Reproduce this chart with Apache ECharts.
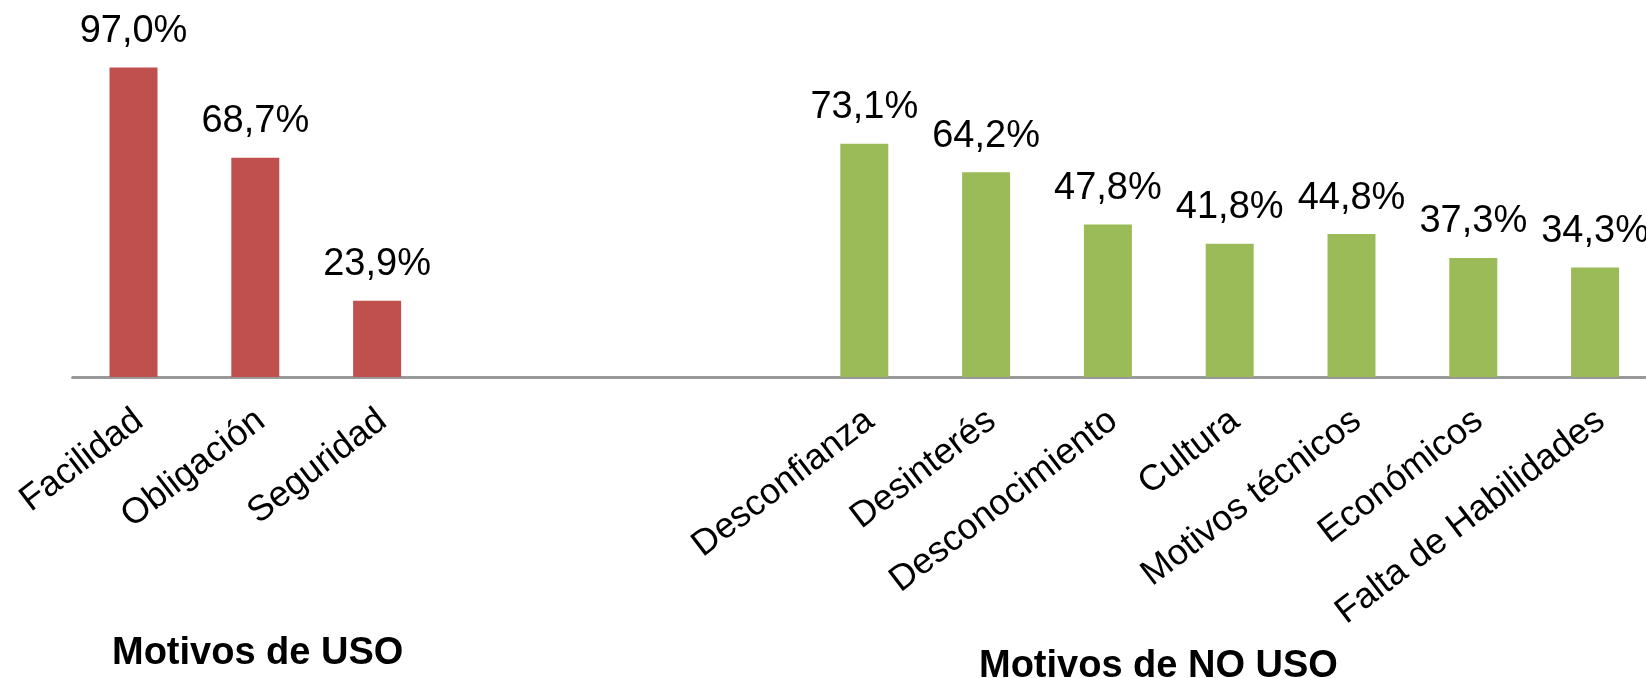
<!DOCTYPE html>
<html>
<head>
<meta charset="utf-8">
<script src="https://cdn.jsdelivr.net/npm/echarts@6/dist/echarts.min.js"></script>
<style>
html,body{margin:0;padding:0;background:#fff;overflow:hidden;width:1646px;height:678px;}
#chart{width:1662px;height:678px;}
</style>
</head>
<body>
<div id="chart"></div>
<script>
// Data
var usoCategories = ['Facilidad', 'Obligación', 'Seguridad'];
var usoValues = [97.0, 68.7, 23.9];
var noUsoCategories = ['Desconfianza', 'Desinterés', 'Desconocimiento', 'Cultura', 'Motivos técnicos', 'Económicos', 'Falta de Habilidades'];
var noUsoValues = [73.1, 64.2, 47.8, 41.8, 44.8, 37.3, 34.3];
var groupTitles = ['Motivos de USO', 'Motivos de NO USO'];
var gapCount = 3;

// Build combined category axis with blank gap slots
var categories = [], usoSeries = [], noUsoSeries = [];
usoCategories.forEach(function (c, i) { categories.push(c); usoSeries.push(usoValues[i]); noUsoSeries.push('-'); });
for (var g = 0; g < gapCount; g++) { categories.push(' '.repeat(g + 1)); usoSeries.push('-'); noUsoSeries.push('-'); }
noUsoCategories.forEach(function (c, i) { categories.push(c); usoSeries.push('-'); noUsoSeries.push(noUsoValues[i]); });

function fmt(p) { return p.value.toFixed(1).replace('.', ',') + '%'; }
var FONT = '"Liberation Sans", Arial, sans-serif';

var chart = echarts.init(document.getElementById('chart'), null, { renderer: 'canvas' });
chart.setOption({
  animation: false,
  backgroundColor: '#ffffff',
  grid: { left: 72.6, top: 58, width: 1583.4, height: 319, containLabel: false },
  xAxis: {
    type: 'category',
    data: categories,
    axisLine: { show: true, lineStyle: { color: '#999999', width: 3 } },
    axisTick: { show: false },
    axisLabel: {
      interval: 0, rotate: 37.5, margin: 44,
      padding: [0, -7, 0, 0],
      color: '#000', fontSize: 36, fontFamily: FONT
    }
  },
  yAxis: { type: 'value', min: 0, max: 100, show: false, splitLine: { show: false } },
  series: [
    {
      type: 'bar', data: usoSeries, barWidth: 48, barGap: '-100%',
      itemStyle: { color: '#C0504D' },
      label: { show: true, position: 'top', distance: 17, formatter: fmt, color: '#000', fontSize: 38, fontFamily: FONT }
    },
    {
      type: 'bar', data: noUsoSeries, barWidth: 48, barGap: '-100%',
      itemStyle: { color: '#9BBB59' },
      label: { show: true, position: 'top', distance: 17, formatter: fmt, color: '#000', fontSize: 38, fontFamily: FONT }
    }
  ],
  graphic: [
    { type: 'text', left: 258 - 146, top: 635, style: { text: groupTitles[0], font: 'bold 38px ' + FONT, fill: '#000' } },
    { type: 'text', left: 1160 - 181, top: 648, style: { text: groupTitles[1], font: 'bold 38px ' + FONT, fill: '#000' } }
  ]
});
</script>
</body>
</html>
